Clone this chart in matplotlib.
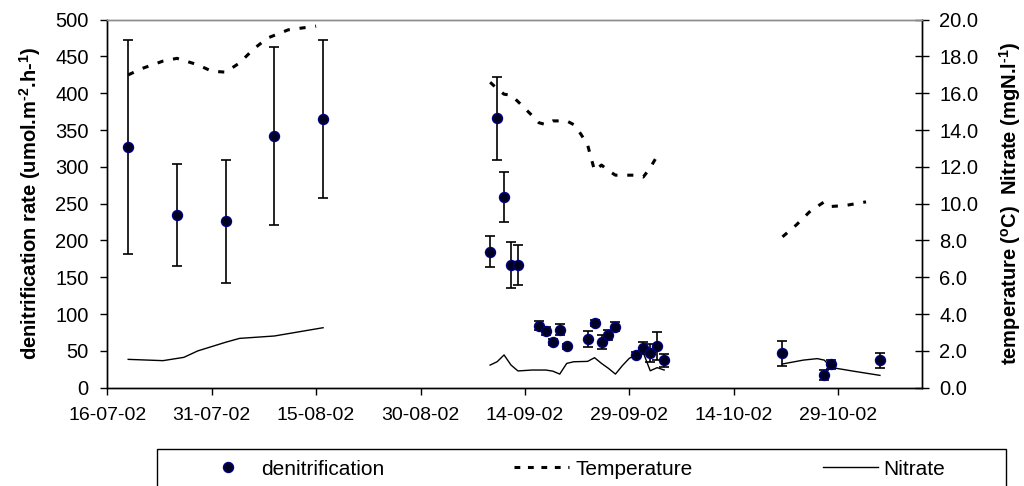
import numpy as np
import matplotlib
matplotlib.use("Agg")
import matplotlib.pyplot as plt
import matplotlib.dates as mdates
from matplotlib.lines import Line2D
from matplotlib.patches import Rectangle
from matplotlib.ticker import MultipleLocator, FormatStrFormatter, FixedLocator
import datetime as dt

plt.rcParams['font.family'] = ['Liberation Sans', 'DejaVu Sans']
plt.rcParams['mathtext.fontset'] = 'custom'
plt.rcParams['mathtext.rm'] = 'Liberation Sans'
plt.rcParams['mathtext.bf'] = 'Liberation Sans:bold'
plt.rcParams['mathtext.it'] = 'Liberation Sans:italic'

# ---------------- data ----------------
denit_dates = ['2002-07-19', '2002-07-26', '2002-08-02', '2002-08-09', '2002-08-16',
               '2002-09-09', '2002-09-10', '2002-09-11', '2002-09-12', '2002-09-13',
               '2002-09-16', '2002-09-17', '2002-09-18', '2002-09-19', '2002-09-20',
               '2002-09-23', '2002-09-24', '2002-09-25', '2002-09-26', '2002-09-27',
               '2002-09-30', '2002-10-01', '2002-10-02', '2002-10-03', '2002-10-04',
               '2002-10-21', '2002-10-27', '2002-10-28', '2002-11-04']
denit_rate = [327, 235, 226, 342, 365,
              185, 366, 259, 167, 167,
              84, 77, 62, 79, 56,
              66, 88, 62, 72, 83,
              45, 54, 47, 57, 37,
              47, 17, 32, 37]
denit_err = [146, 69, 84, 121, 107,
             21, 56, 34, 31, 27,
             6, 6, 4, 7, 3,
             11, 4, 10, 7, 6,
             3, 8, 12, 19, 9,
             17, 7, 6, 10]

temp_day = [3, 5, 8, 10, 13, 15, 17, 19, 21, 23, 26, 29, 30, None,
            55, 56, 57, 58, 59, 61, 62, 63, 64, 66, 67, 68, 69, 70, 71, 72, 73, 74, 75, 76, 77, 78, 79, None,
            97, 99, 101, 103, 104, 106, 109]
temp_val = [17.0, 17.35, 17.75, 17.9, 17.55, 17.2, 17.15, 17.65, 18.4, 19.0, 19.45, 19.6, 19.65, None,
            16.6, 16.25, 15.95, 15.9, 15.55, 14.8, 14.4, 14.3, 14.5, 14.5, 14.3, 13.8, 13.2, 11.8, 12.1, 11.8,
            11.55, 11.55, 11.55, 11.55, 11.45, 11.95, 12.6, None,
            8.2, 8.85, 9.6, 10.1, 9.85, 9.9, 10.1]

nitr_day = [3, 8, 11, 13, 17, 19, 24, 31, None,
            55, 56, 57, 58, 59, 61, 63, 64, 65, 66, 67, 69, 70, 71, 72, 73, 74, 75, 76, 77, 78, 79, 80, None,
            97, 100, 102, 103, 104, 107, 111]
nitr_val = [1.54, 1.47, 1.65, 2.0, 2.47, 2.68, 2.81, 3.26, None,
            1.23, 1.41, 1.78, 1.23, 0.91, 0.96, 0.96, 0.9, 0.74, 1.32, 1.41, 1.43, 1.63, 1.32, 1.05, 0.74,
            1.2, 1.6, 1.78, 1.9, 0.92, 1.09, 0.96, None,
            1.29, 1.5, 1.58, 1.5, 1.1, 0.91, 0.67]

start_date = '2002-07-16'
xtick_step_days = 15
n_xticks = 8
x_end_days = 117
# --------------------------------------

W, H = 1024, 486
fig = plt.figure(figsize=(W / 100, H / 100), dpi=100)
L, R, T, B = 107.3, 921.7, 19.7, 387.7
ax = fig.add_axes([L / W, 1 - B / H, (R - L) / W, (B - T) / H])
ax2 = ax.twinx()

t0 = dt.datetime.strptime(start_date, '%Y-%m-%d')
def d2n(days):
    return [np.nan if d is None else mdates.date2num(t0 + dt.timedelta(days=d)) for d in days]
def v2a(vals):
    return [np.nan if v is None else v for v in vals]

dn = [mdates.date2num(dt.datetime.strptime(s, '%Y-%m-%d')) for s in denit_dates]

ax.errorbar(dn, denit_rate, yerr=denit_err, fmt='none', ecolor='black', elinewidth=1.2,
            capsize=3.6, capthick=1.2, zorder=3)
ax.plot(dn, denit_rate, linestyle='none', marker='o', markersize=7.2, markerfacecolor='#000020',
        markeredgecolor='#000080', markeredgewidth=1.0, zorder=5)

ax2.plot(d2n(temp_day), v2a(temp_val), color='black', lw=2.2, dashes=(2, 3.2), zorder=2)
ax2.plot(d2n(nitr_day), v2a(nitr_val), color='black', lw=1.0, zorder=2)

ax.set_zorder(ax2.get_zorder() + 1)
ax.patch.set_visible(False)

ax.set_ylim(0, 500)
ax.yaxis.set_major_locator(MultipleLocator(50))
ax2.set_ylim(0, 20)
ax2.yaxis.set_major_locator(MultipleLocator(2))
ax2.yaxis.set_major_formatter(FormatStrFormatter('%.1f'))

x0 = mdates.date2num(t0)
ax.set_xlim(x0, x0 + x_end_days)
ax.xaxis.set_major_locator(FixedLocator([x0 + k * xtick_step_days for k in range(n_xticks)]))
ax.xaxis.set_major_formatter(mdates.DateFormatter('%d-%m-%y'))

for a in (ax, ax2):
    a.spines['top'].set_color('#8c8c8c')
    a.spines['top'].set_linewidth(1.0)
    for s in ('left', 'right', 'bottom'):
        a.spines[s].set_linewidth(1.0)
        a.spines[s].set_color('black')

ax.tick_params(axis='y', direction='out', length=5, width=1, pad=8.4, labelsize=14.5)
ax.tick_params(axis='x', direction='out', length=5, width=1, pad=9, labelsize=14)
ax2.tick_params(axis='y', direction='inout', length=9.4, width=1, pad=8, labelsize=14.5)

fig.text(30 / W, 1 - 203 / H, 'denitrification rate (umol.m$^{\\mathbf{\u20102}}$.h-$^{\\mathbf{1}}$)',
         rotation=90, ha='center', va='center', fontsize=14.5, fontweight='bold')
fig.text(1010 / W, 1 - 203 / H, 'temperature ($^{\\mathbf{o}}$C)  Nitrate (mgN.l$^{\\mathbf{\u20101}}$)',
         rotation=90, ha='center', va='center', fontsize=14.5, fontweight='bold')

# legend box (extends below the figure edge)
fig.patches.append(Rectangle((157 / W, -0.05), (1005.7 - 157) / W, (1 - 449.3 / H) + 0.05,
                             transform=fig.transFigure, fill=False, edgecolor='black', lw=1.0))
handles = [Line2D([], [], linestyle='none', marker='o', markersize=7.2, markerfacecolor='#000020',
                  markeredgecolor='#000080'),
           Line2D([], [], color='black', lw=2.2, dashes=(1.9, 2.5)),
           Line2D([], [], color='black', lw=1.0)]
fs = 15
px_per_em = fs * 100 / 72
fig.legend(handles, ['denitrification', 'Temperature', 'Nitrate'], ncol=3, loc='center left',
           bbox_to_anchor=(200 / W, 1 - 469 / H), frameon=False, fontsize=fs,
           handlelength=55 / px_per_em, handletextpad=6 / px_per_em, columnspacing=130 / px_per_em,
           borderpad=0, borderaxespad=0)

fig.savefig('out.png', dpi=100)
